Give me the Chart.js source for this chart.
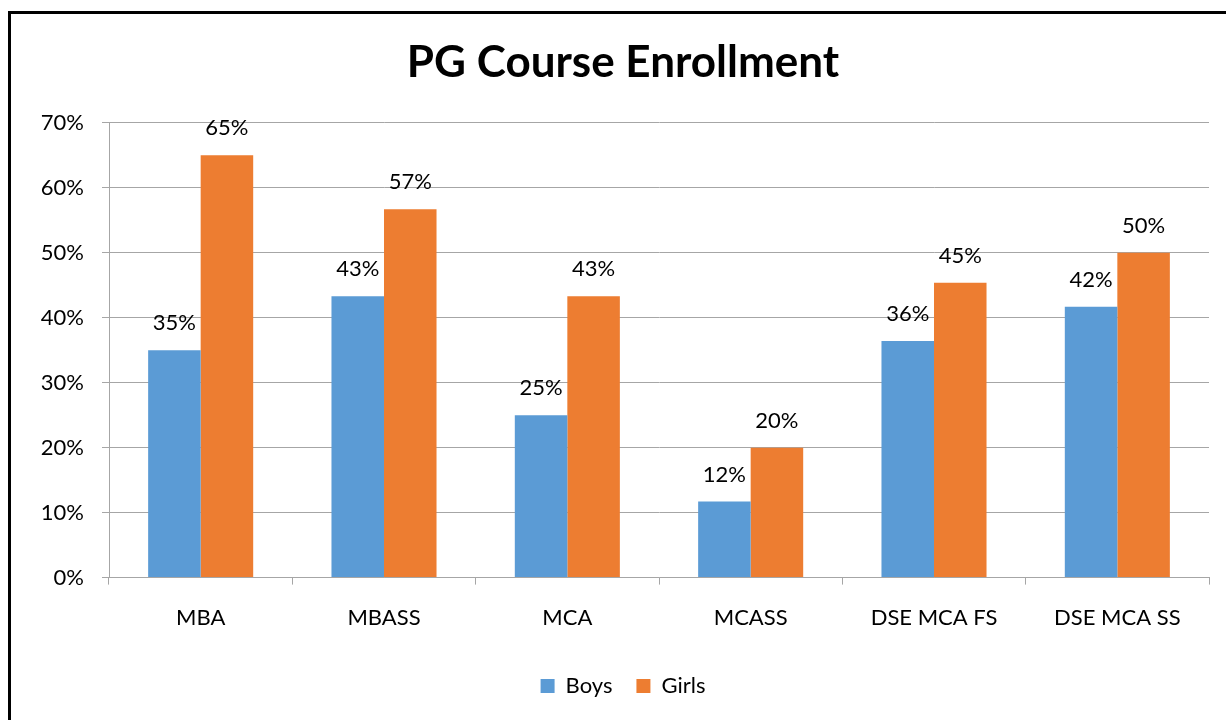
<!DOCTYPE html>
<html>
<head>
<meta charset="utf-8">
<script src="https://cdn.jsdelivr.net/npm/chart.js@4.4.1/dist/chart.umd.min.js"></script>
<style>
  html, body { margin: 0; padding: 0; background: #fff; overflow: hidden; }
  #wrap { position: absolute; left: 0; top: 0; width: 1226px; height: 720px; }
  #frame { position: absolute; left: 8px; top: 11px; width: 1400px; height: 900px; border: 3px solid #000; box-sizing: border-box; }
  canvas { position: absolute; left: 0; top: 0; }
</style>
</head>
<body>
<div id="wrap">
  <div id="frame"></div>
  <canvas id="grafico" width="1226" height="720"></canvas>
</div>
<script>
const cursos = ['MBA', 'MBASS', 'MCA', 'MCASS', 'DSE MCA FS', 'DSE MCA SS'];
const meninos = [35, 43.3, 25, 11.7, 36.4, 41.7];
const meninas = [65, 56.7, 43.3, 20, 45.4, 50];
const ticksY = [0, 10, 20, 30, 40, 50, 60, 70];

const fonte = 'Lato, "Open Sans", sans-serif';
const corGrade = '#a6a6a6';

const rotulos = {
  id: 'rotulos',
  afterDatasetsDraw(chart) {
    const ctx = chart.ctx;
    ctx.save();
    ctx.font = '22px ' + fonte;
    ctx.fillStyle = '#000';
    ctx.textAlign = 'center';
    ctx.textBaseline = 'middle';
    chart.data.datasets.forEach((ds, i) => {
      chart.getDatasetMeta(i).data.forEach((bar, j) => {
        ctx.fillText(Math.round(ds.data[j]) + '%', bar.x, bar.y - 27);
      });
    });
    ctx.restore();
  }
};

new Chart(document.getElementById('grafico'), {
  type: 'bar',
  data: {
    labels: cursos,
    datasets: [
      { label: 'Boys', data: meninos, backgroundColor: '#5B9BD5' },
      { label: 'Girls', data: meninas, backgroundColor: '#ED7D31' }
    ]
  },
  options: {
    responsive: false,
    animation: false,
    layout: { padding: { left: 37, right: 17, top: 0, bottom: 13 } },
    datasets: { bar: { categoryPercentage: 0.573, barPercentage: 1 } },
    plugins: {
      title: {
        display: true,
        text: 'PG Course Enrollment',
        color: '#000',
        font: { family: fonte, size: 44, weight: 'bold', lineHeight: 1.2 },
        padding: { top: 36, bottom: 34 }
      },
      legend: {
        position: 'bottom',
        labels: {
          color: '#000',
          font: { family: fonte, size: 22 },
          boxWidth: 14,
          boxHeight: 14,
          padding: 24
        }
      },
      tooltip: { enabled: false }
    },
    scales: {
      x: {
        offset: true,
        grid: { offset: true, drawOnChartArea: false, drawTicks: true, tickLength: 7, color: corGrade },
        border: { color: corGrade, width: 1 },
        ticks: { color: '#000', font: { family: fonte, size: 22 }, padding: 20, maxRotation: 0 }
      },
      y: {
        min: ticksY[0],
        max: ticksY[ticksY.length - 1],
        afterFit: (s) => { s.width = 72; },
        afterBuildTicks: (s) => { s.ticks = ticksY.map(v => ({ value: v })); },
        grid: { color: corGrade, tickLength: 7 },
        border: { color: corGrade, width: 1 },
        ticks: { color: '#000', font: { family: fonte, size: 22 }, padding: 18, callback: v => v + '%' }
      }
    }
  },
  plugins: [rotulos]
});
</script>
</body>
</html>
